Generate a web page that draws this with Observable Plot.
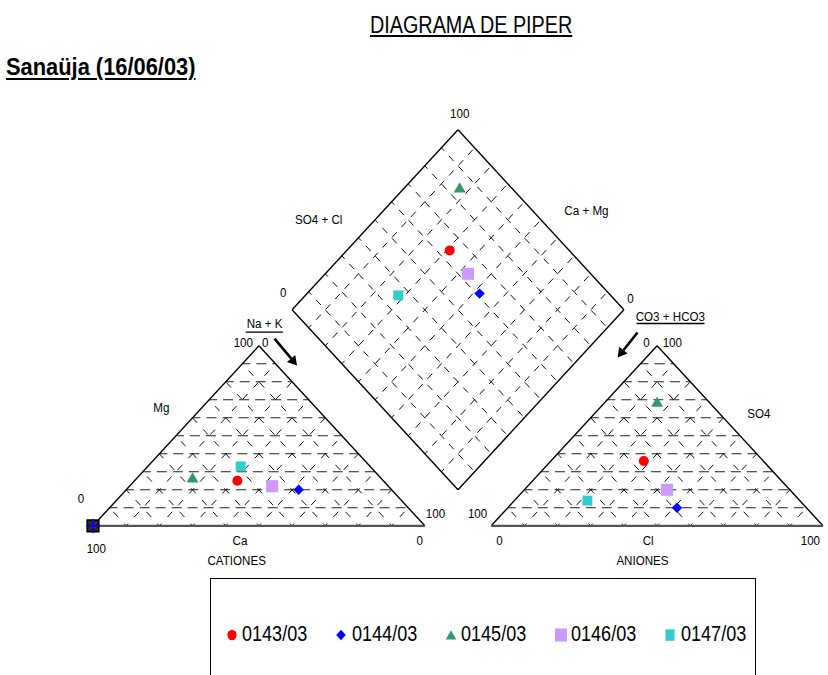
<!DOCTYPE html>
<html><head><meta charset="utf-8">
<script src="https://cdn.jsdelivr.net/npm/d3@7"></script>
<script src="https://cdn.jsdelivr.net/npm/@observablehq/plot@0.6"></script>
<style>
body{margin:0;background:#fff;font-family:"Liberation Sans",Arial,sans-serif;color:#000;}
#page{position:relative;width:828px;height:675px;overflow:hidden;background:#fff;}
.t{position:absolute;white-space:nowrap;transform-origin:0 0;}
#title{left:370px;top:13.8px;font-size:23px;line-height:23px;transform:scaleX(0.86);text-decoration:underline;text-decoration-thickness:1.6px;text-underline-offset:2px;}
#subtitle{left:6px;top:55.5px;font-size:23px;line-height:23px;font-weight:bold;transform:scaleX(0.95);text-decoration:underline;text-decoration-thickness:2px;text-underline-offset:3px;}
#chart{position:absolute;left:0;top:95px;}
#legend{position:absolute;left:210px;top:578px;width:546px;height:140px;border:1.3px solid #000;box-sizing:border-box;}
.lt{position:absolute;top:622.8px;font-size:22px;line-height:22px;transform:scaleX(0.82);transform-origin:0 0;white-space:nowrap;}
.lm{position:absolute;}
</style></head>
<body><div id="page">
<div id="title" class="t">DIAGRAMA DE PIPER</div>
<div id="subtitle" class="t">Sanaüja (16/06/03)</div>
<div id="chart"></div>
<div id="legend"></div>
</div>
<script>
// ---------- data (percent of meq) ----------
const samples = ["0143/03", "0144/03", "0145/03", "0146/03", "0147/03"];
const ca   = [44, 28, 57, 35, 39];
const mg   = [25, 20, 26, 22, 33];
const nak  = [31, 52, 17, 43, 28];
const cl   = [28, 51, 16, 43, 22];
const so4  = [36, 10, 68, 20, 14];
const hco3 = [36, 39, 16, 37, 64];
const colors  = ["#ff0000", "#0000ff", "#339966", "#cc99ff", "#33cccc"];
const symbols = ["circle", "diamond2", "triangle", "square", "square"];
const gridTicks = [10, 20, 30, 40, 50, 60, 70, 80, 90];

// ---------- geometry (piper coordinates) ----------
const GAP = 20, OFF = 100 + GAP;            // right triangle offset
const catPt = (n, m) => ({x: n + m / 2, y: m});           // Na+K, Mg
const anPt  = (c, s) => ({x: OFF + c + s / 2, y: s});      // Cl, SO4
const diaPt = (n, h) => { const y = 200 + GAP - h - n; return {x: n + y / 2, y}; };

const table = samples.map((s, i) => {
  const c = catPt(nak[i], mg[i]), a = anPt(cl[i], so4[i]), d = diaPt(nak[i], hco3[i]);
  return {s, i, cx: c.x, cy: c.y, ax: a.x, ay: a.y, dx: d.x, dy: d.y};
});

// grids
function triGrid(off) {
  const h = [], d = [];
  for (const k of gridTicks) {
    h.push({x1: off + k / 2, y1: k, x2: off + 100 - k / 2, y2: k});
    d.push({x1: off + k, y1: 0, x2: off + k + (100 - k) / 2, y2: 100 - k});
    d.push({x1: off + 100 - k, y1: 0, x2: off + (100 - k) / 2, y2: 100 - k});
  }
  return {h, d};
}
const gL = triGrid(0), gR = triGrid(OFF);
const gridH = gL.h.concat(gR.h), gridS = gL.d.concat(gR.d);
const gridD = [];
for (const k of gridTicks) {
  gridD.push({x1: 60 + k / 2, y1: 120 - k, x2: 110 + k / 2, y2: 220 - k});
  gridD.push({x1: 110 - k / 2, y1: 220 - k, x2: 160 - k / 2, y2: 120 - k});
}
const edges = [
  {x1: 0, y1: 0, x2: 50, y2: 100}, {x1: 50, y1: 100, x2: 100, y2: 0},
  {x1: OFF, y1: 0, x2: OFF + 50, y2: 100}, {x1: OFF + 50, y1: 100, x2: OFF + 100, y2: 0},
  {x1: 60, y1: 120, x2: 110, y2: 220}, {x1: 110, y1: 220, x2: 160, y2: 120},
  {x1: 160, y1: 120, x2: 110, y2: 20}, {x1: 110, y1: 20, x2: 60, y2: 120}
];
const bases = [{x1: 0, y1: 0, x2: 100, y2: 0}, {x1: OFF, y1: 0, x2: OFF + 100, y2: 0}];

// labels
const labels = [
  {t: "100", x: 110.5, y: 229.1}, {t: "SO4 + Cl", x: 68, y: 170.2}, {t: "Ca + Mg", x: 148.7, y: 175.2},
  {t: "0", x: 57.3, y: 129.6}, {t: "0", x: 162, y: 126.3},
  {t: "Na + K", x: 51.7, y: 112.2}, {t: "100", x: 45.3, y: 101.8}, {t: "0", x: 51.9, y: 101.8},
  {t: "Mg", x: 20.6, y: 65.5}, {t: "0", x: -3.6, y: 15.1}, {t: "100", x: 1, y: -12.7},
  {t: "Ca", x: 44.3, y: -8}, {t: "0", x: 98.5, y: -8}, {t: "CATIONES", x: 43.3, y: -19.3},
  {t: "100", x: 103.2, y: 6.5}, {t: "100", x: 115.9, y: 6.5},
  {t: "0", x: 166.8, y: 101.8}, {t: "100", x: 174.6, y: 101.8},
  {t: "CO3 + HCO3", x: 174, y: 116}, {t: "SO4", x: 200.7, y: 62.2},
  {t: "Cl", x: 167.3, y: -8.2}, {t: "0", x: 122.5, y: -8.2}, {t: "100", x: 216.2, y: -8.2},
  {t: "ANIONES", x: 165.6, y: -19.3}
];
const underlines = [
  {x1: 46.0, x2: 57.3, y1: 107.6, y2: 107.6},
  {x1: 163.8, x2: 184.3, y1: 112.4, y2: 112.4}
];

// arrows
const KX = 730 / 220, KY = 1.8, HEAD = 4;
const arrowDefs = [{x1: 54.7, y1: 104, x2: 61.5, y2: 89}, {x1: 164.1, y1: 107.4, x2: 158.1, y2: 93.5}];
const arrowLines = [], arrowHeads = [];
for (const a of arrowDefs) {
  const sx = (a.x2 - a.x1) * KX, sy = -(a.y2 - a.y1) * KY;
  const L = Math.hypot(sx, sy), ux = sx / L, uy = sy / L;
  const tipToC = 2 * Math.sqrt(Math.PI * HEAD * HEAD / (3 * Math.sqrt(3)));
  const base = tipToC * 1.5;
  arrowLines.push({x1: a.x1, y1: a.y1, x2: a.x2 - base * ux / KX, y2: a.y2 + base * uy / KY});
  arrowHeads.push({x: a.x2 - tipToC * ux / KX, y: a.y2 + tipToC * uy / KY,
                   rot: Math.atan2(sx, -sy) * 180 / Math.PI});
}
const corner = [catPt(0, 0)];

const sizes = [5, 4.7, 4.4, 6.8, 5.6];
const dotMarks = [];
for (const layer of [["cx", "cy"], ["ax", "ay"], ["dx", "dy"]]) {
  samples.forEach((s, i) => {
    dotMarks.push(Plot.dot(table.filter(d => d.i === i), {
      x: layer[0], y: layer[1], symbol: () => symbols[i], fill: colors[i], stroke: "none", r: sizes[i]
    }));
  });
}

const TOP = 95;
const chart = Plot.plot({
  width: 828, height: 480, margin: 0,
  x: {domain: [0, 220], range: [92.5, 822.5], axis: null},
  y: {domain: [0, 220], range: [525.3 - TOP, 129.3 - TOP], axis: null},
  symbol: {type: "identity"},
  style: {fontFamily: '"Liberation Sans", Arial, sans-serif', background: "transparent", overflow: "visible"},
  marks: [
    Plot.link(gridH, {x1: "x1", y1: "y1", x2: "x2", y2: "y2", stroke: "#222", strokeWidth: 1.1, strokeDasharray: "10,6", strokeDashoffset: 2}),
    Plot.link(gridS, {x1: "x1", y1: "y1", x2: "x2", y2: "y2", stroke: "#111", strokeWidth: 1, strokeDasharray: "7,9", strokeDashoffset: 4}),
    Plot.link(gridD, {x1: "x1", y1: "y1", x2: "x2", y2: "y2", stroke: "#111", strokeWidth: 1, strokeDasharray: "7,7", strokeDashoffset: 3}),
    Plot.link(edges, {x1: "x1", y1: "y1", x2: "x2", y2: "y2", stroke: "#000", strokeWidth: 1.4}),
    Plot.link(bases, {x1: "x1", y1: "y1", x2: "x2", y2: "y2", stroke: "#555", strokeWidth: 2.2}),
    Plot.text(labels, {x: "x", y: "y", text: "t", fontSize: 13.5, fill: "#000", style: "letter-spacing:-0.3px"}),
    Plot.link(underlines, {x1: "x1", y1: "y1", x2: "x2", y2: "y2", stroke: "#000", strokeWidth: 1.3}),
    Plot.link(arrowLines, {x1: "x1", y1: "y1", x2: "x2", y2: "y2", stroke: "#000", strokeWidth: 2.6}),
    Plot.dot(arrowHeads, {x: "x", y: "y", symbol: () => "triangle", rotate: "rot", fill: "#000", stroke: "none", r: HEAD}),
    Plot.dot(corner, {x: "x", y: "y", symbol: () => "square", fill: "#0b300b", stroke: "#000", r: 6.6}),
    Plot.dot(corner, {x: "x", y: "y", symbol: () => "times", stroke: "#ff0000", strokeWidth: 1, fill: "none", r: 3.8}),
    Plot.dot(corner, {x: "x", y: "y", symbol: () => "plus", stroke: "#0000ff", strokeWidth: 2, fill: "none", r: 4.5}),
    ...dotMarks
  ]
});
// condense the label glyphs horizontally (as in the reference rendering)
d3.select(chart).selectAll("text").each(function () {
  const tr = this.getAttribute("transform");
  if (tr) {
    this.setAttribute("transform", tr + " scale(0.86,1)");
  } else {
    const x = +this.getAttribute("x") || 0, y = +this.getAttribute("y") || 0;
    this.setAttribute("transform", `translate(${x},${y}) scale(0.86,1) translate(${-x},${-y})`);
  }
});
document.getElementById("chart").appendChild(chart);

// ---------- legend ----------
const page = document.getElementById("page");
const legendShapes = {
  circle: c => `<ellipse cx="8" cy="8" rx="4.6" ry="5.3" fill="${c}"/>`,
  diamond2: c => `<polygon points="8,2.8 12.8,8 8,13.2 3.2,8" fill="${c}"/>`,
  triangle: c => `<polygon points="8,3.3 13.3,12.6 2.7,12.6" fill="${c}"/>`,
  square: c => `<rect x="2" y="1.5" width="12" height="13" fill="${c}"/>`,
  square2: c => `<rect x="3.5" y="2.3" width="9" height="11.5" fill="${c}"/>`
};
samples.forEach((s, i) => {
  const tx = 242 + i * 109.7;
  const key = (i === 4) ? "square2" : symbols[i];
  const m = document.createElement("div");
  m.className = "lm";
  m.style.left = (tx - 10.5 - 8) + "px";
  m.style.top = (635 - 8) + "px";
  m.innerHTML = `<svg width="16" height="16" style="display:block">${legendShapes[key](colors[i])}</svg>`;
  page.appendChild(m);
  const t = document.createElement("div");
  t.className = "lt";
  t.style.left = tx + "px";
  t.textContent = s;
  page.appendChild(t);
});
</script>
</body></html>
